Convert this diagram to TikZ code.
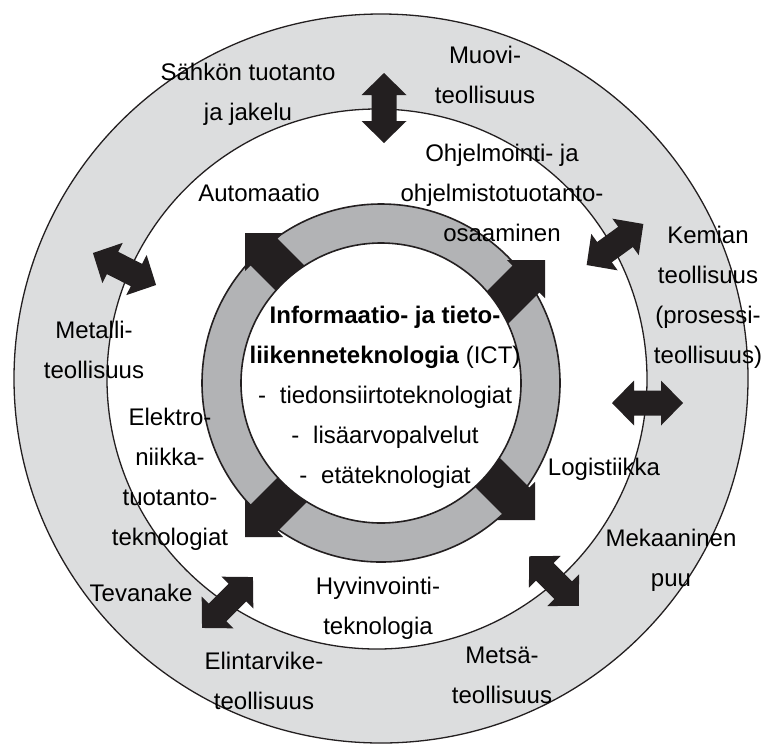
\documentclass[tikz,border=0pt]{standalone}
\usepackage{fontspec}
\setmainfont{Liberation Sans}
\definecolor{bandgray}{RGB}{220,221,222}
\definecolor{ringgray}{RGB}{178,179,181}
\definecolor{ink}{RGB}{35,31,32}
\newcommand{\dblarrow}[4]{% name, center, angle, half length
  \fill[ink, shift={(#2)}, rotate=#3]
    (-#4,0) -- (-#4+22,22.5) -- (-#4+22,12.5) -- (#4-22,12.5) -- (#4-22,22.5)
    -- (#4,0) -- (#4-22,-22.5) -- (#4-22,-12.5) -- (-#4+22,-12.5) -- (-#4+22,-22.5) -- cycle;
  \coordinate (#1) at (#2);}
\newcommand{\ringarrow}[3]{% name, tip, angle
  \fill[ink, shift={(#2)}, rotate=#3]
    (0,0) -- (-27,27) -- (-27,19) -- (-95,19) -- (-95,-19) -- (-27,-19) -- (-27,-27) -- cycle;
  \coordinate (#1) at (#2);}
\tikzset{
  lbl/.style={align=center, inner sep=0pt, text=black, font=\fontsize{24}{40}\selectfont},
  circline/.style={draw=ink, line width=1.3pt},
  ringline/.style={draw=ink, line width=1.6pt}
}
\begin{document}
\begin{tikzpicture}[x=1pt, y=-1pt]
\useasboundingbox (0,0) rectangle (767,745);
% outer band
\path[circline, fill=bandgray] (381,378.5) ellipse [x radius=367, y radius=364.5];
% inner white area
\path[circline, fill=white] (377,379) circle [radius=270];
% double arrows between areas
\dblarrow{aTop}{384,108}{90}{35}
\dblarrow{aMet}{124.5,269}{-26.9}{35.4}
\dblarrow{aKem}{615,244.5}{35.9}{35}
\dblarrow{aRight}{647.5,403}{0}{35.5}
\dblarrow{aMets}{554,581}{-45}{35}
\dblarrow{aTev}{227.5,602.5}{45}{36}
% gray ring
\path[fill=ringgray, even odd rule] (381,383) circle [radius=179] (381,383) circle [radius=140];
\draw[ringline] (381,383) circle [radius=179];
% black ring arrows
\ringarrow{rTL}{245,233}{135}
\ringarrow{rTR}{545,260}{45}
\ringarrow{rBR}{535,520}{-45}
\ringarrow{rBL}{245,537}{-135}
% inner disk
\path[ringline, fill=white] (381,383) circle [radius=140];
% texts
\node[lbl] (center) at (385,397) {\textbf{Informaatio- ja tieto-}\\\textbf{liikenneteknologia} (ICT)\\-\hspace{0.3em} tiedonsiirtoteknologiat\\-\hspace{0.3em} lisäarvopalvelut\\-\hspace{0.3em} etäteknologiat};
\node[lbl] (sahko) at (248,94) {Sähkön tuotanto\\ja jakelu};
\node[lbl] (muovi) at (485,74.5) {Muovi-\\teollisuus};
\node[lbl] (kemia) at (708,297) {Kemian\\teollisuus\\(prosessi-\\teollisuus)};
\node[lbl] (metalli) at (94,350) {Metalli-\\teollisuus};
\node[lbl] (tevanake) at (141,593) {Tevanake};
\node[lbl] (elintarv) at (264,680.5) {Elintarvike-\\teollisuus};
\node[lbl] (metsa) at (502,675) {Metsä-\\teollisuus};
\node[lbl] (mekaan) at (671,560.5) {Mekaaninen\\puu};
\node[lbl] (autom) at (259,193) {Automaatio};
\node[lbl] (ohjelm) at (502,192.5) {Ohjelmointi- ja\\ohjelmistotuotanto-\\osaaminen};
\node[lbl] (elektro) at (170,479) {Elektro-\\niikka-\\tuotanto-\\teknologiat};
\node[lbl] (logist) at (604,469) {Logistiikka};
\node[lbl] (hyvinv) at (378,608.5) {Hyvinvointi-\\teknologia};
\end{tikzpicture}
\end{document}
